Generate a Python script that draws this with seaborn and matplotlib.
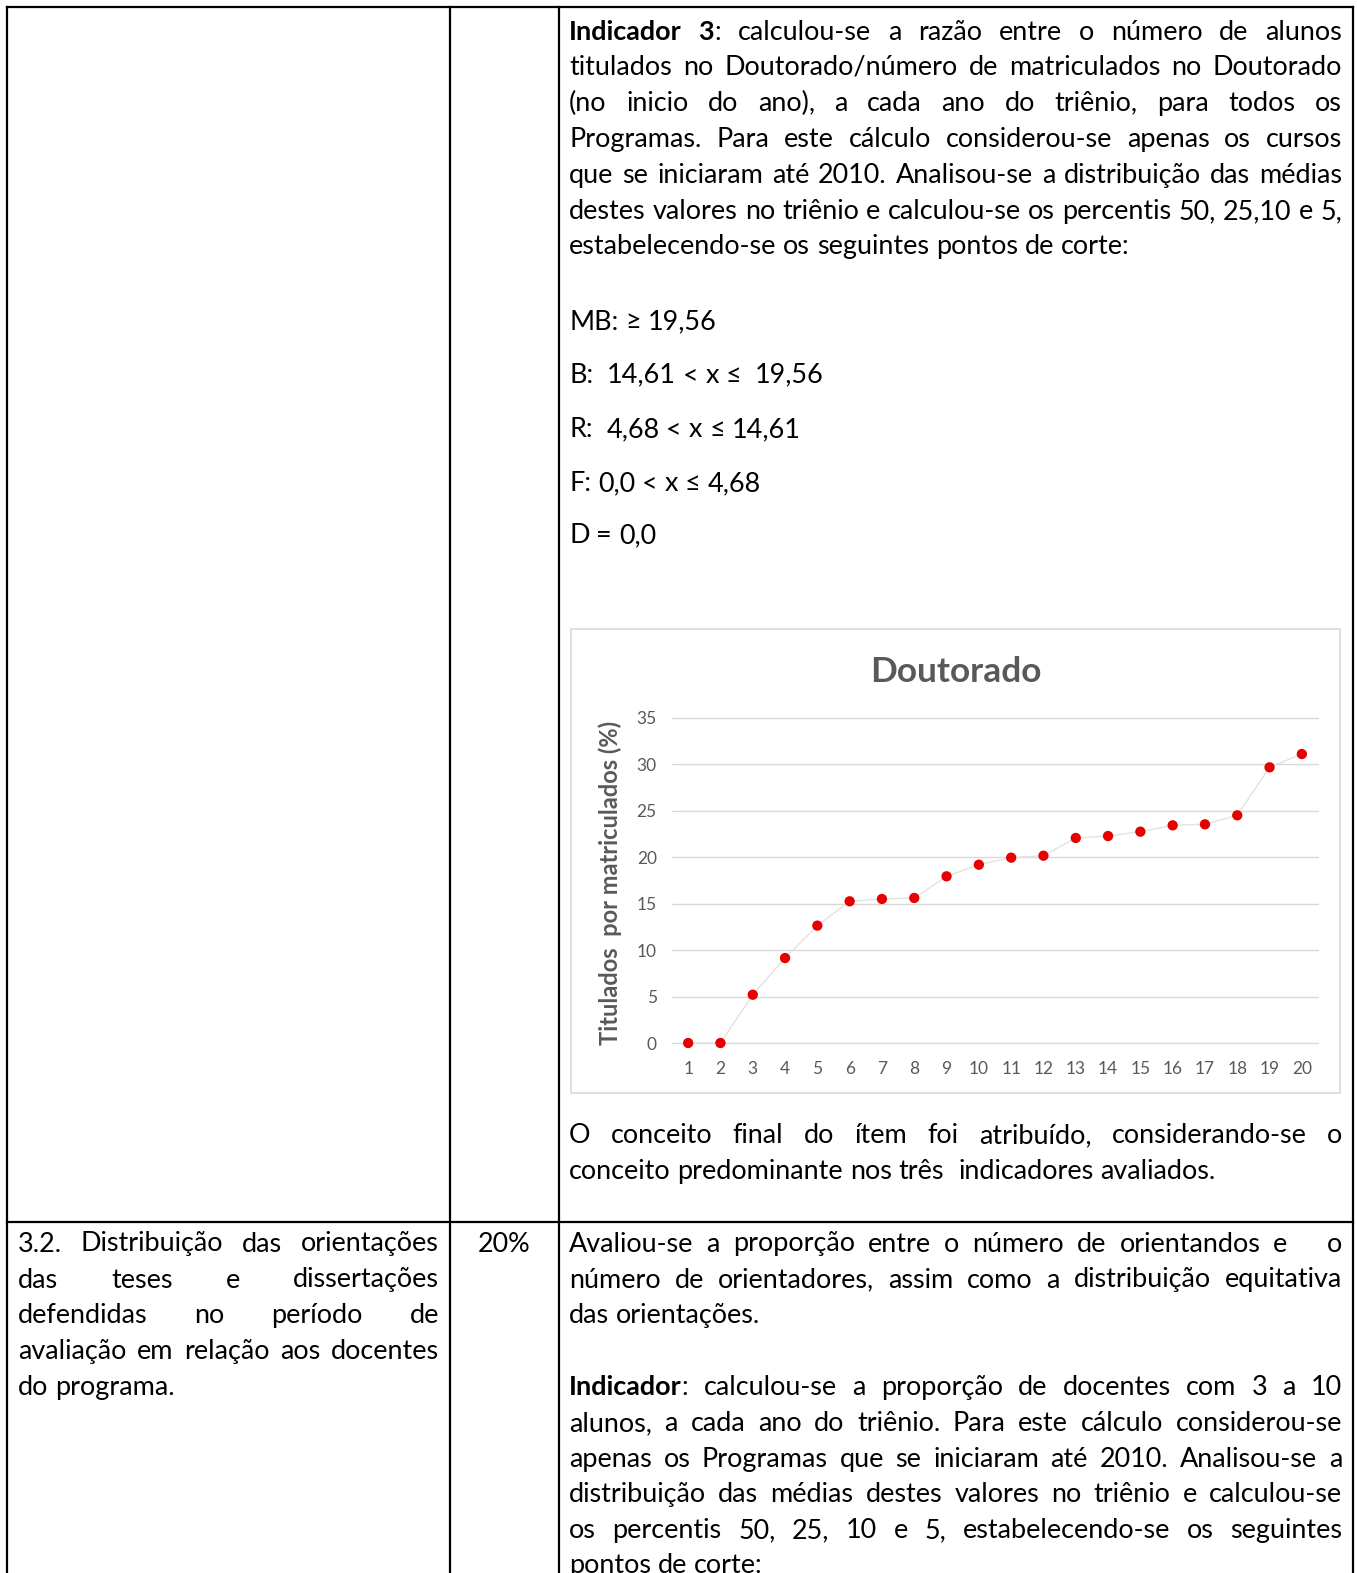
import matplotlib
matplotlib.use("Agg")
import matplotlib.pyplot as plt
import seaborn as sns
import pandas as pd
from matplotlib.patches import Rectangle

# ---- chart data -------------------------------------------------------------
programas = list(range(1, 21))
titulados_por_matriculados = [0.0, 0.0, 5.2, 9.15, 12.64, 15.26, 15.51, 15.62, 17.95, 19.2,
                              19.96, 20.17, 22.08, 22.29, 22.76, 23.44, 23.55, 24.52, 29.69, 31.12]
y_ticks = [0, 5, 10, 15, 20, 25, 30, 35]
chart_title = "Doutorado"
y_label = "Titulados  por matriculados (%)"

# ---- table text (** toggles bold) -----------------------------------------
indicador3_lines = [
    ("**Indicador 3**: calculou-se a razão entre o número de alunos", 30.1, "j"),
    ("titulados no Doutorado/número de matriculados no Doutorado", 65.2, "j"),
    ("(no inicio do ano), a cada ano do triênio, para todos os", 101.3, "j"),
    ("Programas. Para este cálculo considerou-se apenas os cursos", 137.4, "j"),
    ("que se iniciaram até 2010. Analisou-se a distribuição das médias", 173.6, "j"),
    ("destes valores no triênio e calculou-se os percentis 50, 25,10 e 5,", 209.7, "j"),
    ("estabelecendo-se os seguintes pontos de corte:", 244.8, "l"),
]
pontos_de_corte = [
    ("MB: ≥ 19,56", 320.0),
    ("B:  14,61 < x ≤  19,56", 373.2),
    ("R:  4,68 < x ≤ 14,61", 427.4),
    ("F: 0,0 < x ≤ 4,68", 481.5),
    ("D = 0,0", 533.7),
]
conclusao_lines = [
    ("O conceito final do ítem foi atribuído, considerando-se o", 1133.6, "j"),
    ("conceito predominante nos três  indicadores avaliados.", 1169.7, "l"),
]
item_32_lines = [
    ("3.2. Distribuição das orientações", 1242.0, "j"),
    ("das teses e dissertações", 1278.0, "j"),
    ("defendidas no período de", 1313.2, "j"),
    ("avaliação em relação aos docentes", 1349.3, "j"),
    ("do programa.", 1385.4, "l"),
]
peso_32 = "20%"
avaliacao_32_lines = [
    ("Avaliou-se a proporção entre o número de orientandos e   o", 1242.0, "j"),
    ("número de orientadores, assim como a distribuição equitativa", 1278.0, "j"),
    ("das orientações.", 1313.2, "l"),
    ("**Indicador**: calculou-se a proporção de docentes com 3 a 10", 1385.4, "j"),
    ("alunos, a cada ano do triênio. Para este cálculo considerou-se", 1421.5, "j"),
    ("apenas os Programas que se iniciaram até 2010. Analisou-se a", 1457.6, "j"),
    ("distribuição das médias destes valores no triênio e calculou-se", 1492.8, "j"),
    ("os percentis 50, 25, 10 e 5, estabelecendo-se os seguintes", 1528.9, "j"),
    ("pontos de corte:", 1563.5, "l"),
]

# ---- figure / page ------------------------------------------------------------
sns.set_style("white")
plt.rcParams["font.family"] = ["Lato", "DejaVu Sans"]

W, H = 1357, 1573
fig = plt.figure(figsize=(W / 100, H / 100), dpi=100)
fig.patch.set_facecolor("white")
page = fig.add_axes([0, 0, 1, 1])
page.set_xlim(0, W)
page.set_ylim(H, 0)
page.axis("off")
renderer = fig.canvas.get_renderer()


def measure(s, size, bold=False):
    t = page.text(0, 0, s, fontsize=size, fontweight="bold" if bold else "normal")
    w = t.get_window_extent(renderer=renderer).width
    t.remove()
    return w


def fit_size(s, target, bold=False):
    return 10.0 * target / measure(s, 10.0, bold)


BODY = fit_size("estabelecendo-se os seguintes pontos de corte:", 565)
SPACE = measure("a a", BODY) - measure("aa", BODY)
Y_SHIFT = 2.0


def parse_words(line):
    """Split a marked-up line on single spaces; each word is a list of (text, bold) runs."""
    chars = []
    for i, part in enumerate(line.split("**")):
        chars += [(ch, i % 2 == 1) for ch in part]
    words, cur = [], []
    for ch, b in chars + [(" ", False)]:
        if ch == " ":
            words.append(cur)
            cur = []
        else:
            cur.append((ch, b))
    out = []
    for w in words:
        runs = []
        for ch, b in w:
            if runs and runs[-1][1] == b:
                runs[-1][0] += ch
            else:
                runs.append([ch, b])
        out.append(runs)
    return out


def word_width(runs):
    return sum(measure(s, BODY, b) for s, b in runs)


def draw_word(x, y, runs):
    for s, b in runs:
        page.text(x, y + Y_SHIFT, s, fontsize=BODY, fontweight="bold" if b else "normal",
                  color="black", ha="left", va="center")
        x += measure(s, BODY, b)
    return x


def draw_line(line, y, left, right, mode):
    words = parse_words(line)
    if mode == "j":
        # every space stretches by the same amount, as in justified word processing
        widths = [word_width(w) for w in words]
        gap = (right - left - sum(widths)) / (len(words) - 1)
        x = left
        for w, ww in zip(words, widths):
            if w:
                draw_word(x, y, w)
            x += ww + gap
    else:
        x = left
        for w in words:
            if w:
                x = draw_word(x, y, w)
            x += SPACE


C3_L, C3_R = 569, 1342
C1_L, C1_R = 18, 439

for line, y, mode in indicador3_lines + conclusao_lines + avaliacao_32_lines:
    draw_line(line, y, C3_L, C3_R, mode)
for line, y in pontos_de_corte:
    draw_line(line, y, C3_L, C3_R, "l")
for line, y, mode in item_32_lines:
    draw_line(line, y, C1_L, C1_R, mode)
page.text(504.5, 1242.0 + Y_SHIFT, peso_32, fontsize=BODY, ha="center", va="center",
          color="black")

# table rules
rule = dict(color="black", lw=1.6, solid_capstyle="projecting")
page.plot([7, 1353], [7, 7], **rule)
page.plot([7, 1353], [1222, 1222], **rule)
for xv in (7, 450, 559, 1353):
    page.plot([xv, xv], [7, H + 5], **rule)

# chart frame
page.add_patch(Rectangle((571, 629), 1340 - 571, 1093 - 629, fill=False,
                         edgecolor="#d9d9d9", lw=1.2))

# ---- chart ----------------------------------------------------------------------
AX_L, AX_R, AX_T, AX_B = 672, 1318, 718, 1043
ax = fig.add_axes([AX_L / W, (H - AX_B) / H, (AX_R - AX_L) / W, (AX_B - AX_T) / H])
ax.set_facecolor("none")

df = pd.DataFrame({"programa": programas, "titulados": titulados_por_matriculados})
sns.lineplot(data=df, x="programa", y="titulados", color="#e2e2e2", lw=1.0,
             ax=ax, zorder=2, clip_on=False)
sns.scatterplot(data=df, x="programa", y="titulados", color="#e60000", s=55,
                edgecolor="none", ax=ax, zorder=3, clip_on=False)

ax.set_xlim(0.5, 20.5)
ax.set_ylim(0, 35)
ax.set_xticks(programas)
ax.set_xticklabels([str(p) for p in programas])
ax.set_yticks(y_ticks)
ax.grid(axis="y", color="#d9d9d9", lw=1.0)
ax.grid(axis="x", visible=False)
ax.set_axisbelow(True)
for gl in ax.get_ygridlines():
    gl.set_clip_on(False)
for sp in ax.spines.values():
    sp.set_visible(False)
ax.tick_params(length=0, labelsize=12.5, labelcolor="#595959")
ax.tick_params(axis="y", pad=11)
ax.tick_params(axis="x", pad=13)

ax.set_xlabel("")
ax.set_ylabel(y_label, fontsize=fit_size(y_label, 325, True), fontweight="bold",
              color="#595959")
ax.yaxis.label.set_va("center")
ax.yaxis.set_label_coords((610 - AX_L) / (AX_R - AX_L), (AX_B - 883) / (AX_B - AX_T))

ax.set_title(chart_title, x=(956 - AX_L) / (AX_R - AX_L),
             y=(AX_B - 672) / (AX_B - AX_T), pad=0, va="center",
             fontsize=fit_size(chart_title, 172, True), fontweight="bold",
             color="#595959")

fig.savefig("out.png", dpi=100, facecolor="white")
